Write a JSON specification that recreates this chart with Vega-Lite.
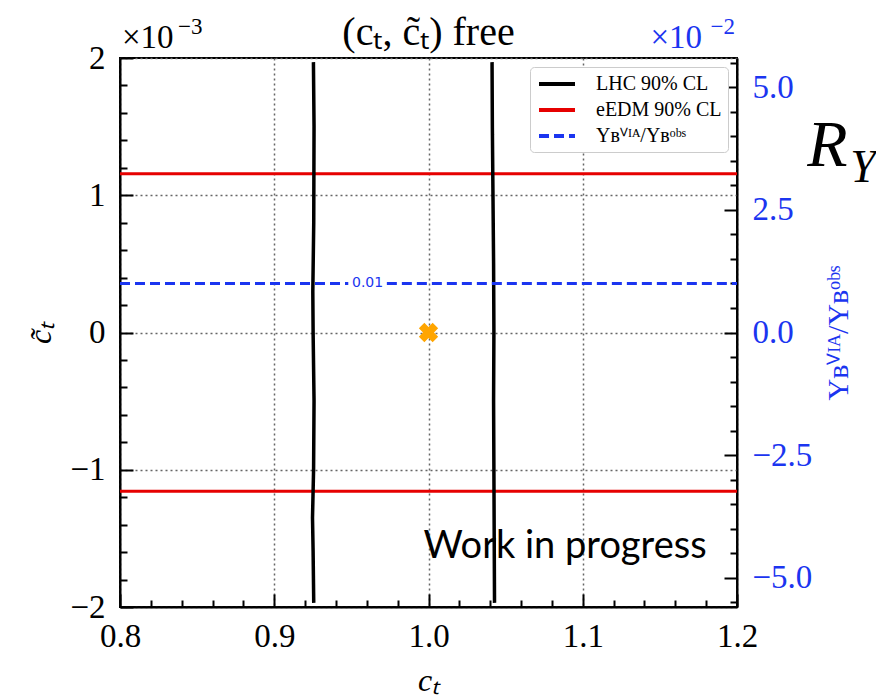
{
  "$schema": "https://vega.github.io/schema/vega-lite/v6.json",
  "width": 617,
  "height": 549,
  "autosize": {"type": "none"},
  "padding": {"left": 120, "top": 58, "right": 139, "bottom": 89},
  "background": "white",
  "config": {
    "view": {"stroke": "black", "strokeWidth": 2},
    "text": {"font": "Liberation Serif"},
    "axis": {"labelFont": "Liberation Serif", "titleFont": "Liberation Serif", "labelColor": "black", "titleColor": "black", "domainColor": "black", "domainWidth": 2, "tickColor": "black", "tickWidth": 2, "titleFontWeight": "normal", "gridDash": [2, 3], "gridColor": "#666666", "gridWidth": 1.5}
  },
  "datasets": {
    "lhc": [
      {"ct": 0.9256, "ctilde": -1.97, "series": "LHC 90% CL", "id": "L"},
      {"ct": 0.9252, "ctilde": -1.6, "series": "LHC 90% CL", "id": "L"},
      {"ct": 0.9248, "ctilde": -1.35, "series": "LHC 90% CL", "id": "L"},
      {"ct": 0.9255, "ctilde": -1.0, "series": "LHC 90% CL", "id": "L"},
      {"ct": 0.9258, "ctilde": -0.5, "series": "LHC 90% CL", "id": "L"},
      {"ct": 0.9252, "ctilde": 0.0, "series": "LHC 90% CL", "id": "L"},
      {"ct": 0.9250, "ctilde": 0.3, "series": "LHC 90% CL", "id": "L"},
      {"ct": 0.9256, "ctilde": 0.8, "series": "LHC 90% CL", "id": "L"},
      {"ct": 0.9258, "ctilde": 1.5, "series": "LHC 90% CL", "id": "L"},
      {"ct": 0.9254, "ctilde": 1.97, "series": "LHC 90% CL", "id": "L"},
      {"ct": 1.0428, "ctilde": -1.97, "series": "LHC 90% CL", "id": "R"},
      {"ct": 1.0426, "ctilde": -1.5, "series": "LHC 90% CL", "id": "R"},
      {"ct": 1.0424, "ctilde": -1.0, "series": "LHC 90% CL", "id": "R"},
      {"ct": 1.0422, "ctilde": -0.5, "series": "LHC 90% CL", "id": "R"},
      {"ct": 1.0424, "ctilde": 0.0, "series": "LHC 90% CL", "id": "R"},
      {"ct": 1.0422, "ctilde": 0.5, "series": "LHC 90% CL", "id": "R"},
      {"ct": 1.0418, "ctilde": 1.0, "series": "LHC 90% CL", "id": "R"},
      {"ct": 1.0414, "ctilde": 1.5, "series": "LHC 90% CL", "id": "R"},
      {"ct": 1.0412, "ctilde": 1.97, "series": "LHC 90% CL", "id": "R"}
    ],
    "eedm": [
      {"ct": 0.8, "ctilde": 1.156, "series": "eEDM 90% CL", "id": "top"},
      {"ct": 1.2, "ctilde": 1.156, "series": "eEDM 90% CL", "id": "top"},
      {"ct": 0.8, "ctilde": -1.156, "series": "eEDM 90% CL", "id": "bottom"},
      {"ct": 1.2, "ctilde": -1.156, "series": "eEDM 90% CL", "id": "bottom"}
    ],
    "yb": [
      {"ct": 0.8, "yratio": 1.0, "series": "Yʙⱽᴵᴬ/Yʙᵒᵇˢ", "seg": "a"},
      {"ct": 0.948, "yratio": 1.0, "series": "Yʙⱽᴵᴬ/Yʙᵒᵇˢ", "seg": "a"},
      {"ct": 0.973, "yratio": 1.0, "series": "Yʙⱽᴵᴬ/Yʙᵒᵇˢ", "seg": "b"},
      {"ct": 1.2, "yratio": 1.0, "series": "Yʙⱽᴵᴬ/Yʙᵒᵇˢ", "seg": "b"}
    ]
  },
  "layer": [
    {
      "encoding": {
        "x": {"field": "ct", "type": "quantitative", "scale": {"domain": [0.8, 1.2], "nice": false, "zero": false},
          "axis": {"orient": "bottom", "title": "cₜ", "titleFont": "Liberation Serif", "titleFontSize": 32, "titleFontStyle": "italic", "titlePadding": 6,
            "values": [0.8, 0.82, 0.84, 0.86, 0.88, 0.9, 0.92, 0.94, 0.96, 0.98, 1.0, 1.02, 1.04, 1.06, 1.08, 1.1, 1.12, 1.14, 1.16, 1.18, 1.2],
            "labelExpr": "abs(datum.value*10 - round(datum.value*10)) < 0.001 ? format(datum.value, '.1f') : ''",
            "labelFont": "Liberation Serif", "labelFontSize": 33, "labelPadding": 26, "labelFlush": false, "labelOverlap": false,
            "tickSize": {"condition": {"test": "abs(datum.value*10 - round(datum.value*10)) < 0.001", "value": -13}, "value": -7},
            "grid": true,
            "gridOpacity": {"condition": {"test": "abs(datum.value*10 - round(datum.value*10)) < 0.001", "value": 1}, "value": 0}}},
        "y": {"field": "ctilde", "type": "quantitative", "scale": {"domain": [-2, 2], "nice": false, "zero": false},
          "axis": {"orient": "left", "title": "c̃ₜ", "titleFont": "Liberation Serif", "titleFontSize": 32, "titleFontStyle": "italic", "titleAngle": 270, "titlePadding": 12,
            "values": [-2, -1.8, -1.6, -1.4, -1.2, -1, -0.8, -0.6, -0.4, -0.2, 0, 0.2, 0.4, 0.6, 0.8, 1, 1.2, 1.4, 1.6, 1.8, 2],
            "labelExpr": "abs(datum.value - round(datum.value)) < 0.001 ? format(datum.value, 'd') : ''",
            "labelFont": "Liberation Serif", "labelFontSize": 33, "labelPadding": 28, "labelFlush": false, "labelOverlap": false,
            "tickSize": {"condition": {"test": "abs(datum.value - round(datum.value)) < 0.001", "value": -13}, "value": -7},
            "grid": true,
            "gridOpacity": {"condition": {"test": "abs(datum.value - round(datum.value)) < 0.001", "value": 1}, "value": 0}}}
      },
      "layer": [
        {
          "data": {"name": "eedm"},
          "mark": {"type": "line", "strokeWidth": 3},
          "encoding": {
            "detail": {"field": "id"},
            "color": {"field": "series", "type": "nominal", "scale": {"domain": ["LHC 90% CL", "eEDM 90% CL", "Yʙⱽᴵᴬ/Yʙᵒᵇˢ"], "range": ["black", "#e60000", "#1b35f0"]},
              "legend": {"title": null, "orient": "top-right", "offset": 9, "symbolType": "M-2,0H2", "symbolStrokeWidth": 4, "symbolSize": 324, "symbolOffset": 10, "labelFont": "Liberation Serif", "labelFontSize": 20, "labelColor": "black", "rowPadding": 5, "padding": 6, "fillColor": "white", "strokeColor": "#cccccc", "cornerRadius": 4, "labelOffset": 28}},
            "strokeDash": {"field": "series", "type": "nominal", "scale": {"domain": ["LHC 90% CL", "eEDM 90% CL", "Yʙⱽᴵᴬ/Yʙᵒᵇˢ"], "range": [[1, 0], [1, 0], [10, 5]]},
              "legend": {"title": null, "orient": "top-right", "offset": 9, "symbolType": "M-2,0H2", "symbolStrokeWidth": 4, "symbolSize": 324, "symbolOffset": 10, "labelFont": "Liberation Serif", "labelFontSize": 20, "labelColor": "black", "rowPadding": 5, "padding": 6, "fillColor": "white", "strokeColor": "#cccccc", "cornerRadius": 4, "labelOffset": 28}}
          }
        },
        {
          "data": {"name": "lhc"},
          "mark": {"type": "line", "strokeWidth": 3.5},
          "encoding": {
            "detail": {"field": "id"},
            "order": {"field": "ctilde", "type": "quantitative"},
            "color": {"field": "series", "type": "nominal"},
            "strokeDash": {"field": "series", "type": "nominal"}
          }
        },
        {
          "data": {"values": [{"ct": 1.0, "ctilde": 0.0}]},
          "mark": {"type": "point", "shape": "cross", "angle": 45, "filled": true, "color": "#FFA500", "opacity": 1, "size": 380}
        },
        {
          "data": {"values": [{"ct": 1.0885, "ctilde": -1.564, "label": "Work in progress"}]},
          "mark": {"type": "text", "font": "Lato", "fontSize": 38, "color": "black", "align": "center", "baseline": "middle"},
          "encoding": {"text": {"field": "label"}}
        },
        {
          "data": {"values": [{"ct": 1.0, "ctilde": 2.0, "label": "(cₜ, c̃ₜ) free"}]},
          "mark": {"type": "text", "font": "Liberation Serif", "fontSize": 40, "color": "black", "align": "center", "baseline": "alphabetic", "dy": -13},
          "encoding": {"text": {"field": "label"}}
        },
        {
          "data": {"values": [{"ct": 0.8, "ctilde": 2.0, "label": "×10"}]},
          "mark": {"type": "text", "font": "Liberation Serif", "fontSize": 33, "color": "black", "align": "left", "baseline": "alphabetic", "dy": -10, "dx": 2},
          "encoding": {"text": {"field": "label"}}
        },
        {
          "data": {"values": [{"ct": 0.8, "ctilde": 2.0, "label": "−3"}]},
          "mark": {"type": "text", "font": "Liberation Serif", "fontSize": 23, "color": "black", "align": "left", "baseline": "alphabetic", "dy": -24, "dx": 58},
          "encoding": {"text": {"field": "label"}}
        },
        {
          "data": {"values": [{"ct": 1.2455, "ctilde": 1.36, "label": "R"}]},
          "mark": {"type": "text", "font": "Liberation Serif", "fontStyle": "italic", "fontSize": 66, "color": "black", "align": "left", "baseline": "middle"},
          "encoding": {"text": {"field": "label"}}
        },
        {
          "data": {"values": [{"ct": 1.2735, "ctilde": 1.20, "label": "Y"}]},
          "mark": {"type": "text", "font": "Liberation Serif", "fontStyle": "italic", "fontSize": 46, "color": "black", "align": "left", "baseline": "middle"},
          "encoding": {"text": {"field": "label"}}
        }
      ]
    },
    {
      "encoding": {
        "x": {"field": "ct", "type": "quantitative", "scale": {"domain": [0.8, 1.2], "nice": false, "zero": false}, "axis": null},
        "y": {"field": "yratio", "type": "quantitative", "scale": {"domain": [-5.6, 5.6], "nice": false, "zero": false},
          "axis": {"orient": "right", "title": "Yʙⱽᴵᴬ/Yʙᵒᵇˢ", "titleFont": "Liberation Serif", "titleColor": "#1b35f0", "titleFontSize": 30, "titleAngle": 270, "titleBaseline": "top", "titlePadding": 12,
            "values": [-5.5, -5, -4.5, -4, -3.5, -3, -2.5, -2, -1.5, -1, -0.5, 0, 0.5, 1, 1.5, 2, 2.5, 3, 3.5, 4, 4.5, 5, 5.5],
            "labelExpr": "abs(datum.value/2.5 - round(datum.value/2.5)) < 0.001 ? format(datum.value, '.1f') : ''",
            "labelFont": "Liberation Serif", "labelColor": "#1b35f0", "labelFontSize": 33, "labelPadding": 28, "labelFlush": false, "labelOverlap": false,
            "grid": false,
            "tickSize": {"condition": {"test": "abs(datum.value/2.5 - round(datum.value/2.5)) < 0.001", "value": -13}, "value": -7}}}
      },
      "layer": [
        {
          "data": {"name": "yb"},
          "mark": {"type": "line", "strokeWidth": 3},
          "encoding": {
            "detail": {"field": "seg"},
            "color": {"field": "series", "type": "nominal"},
            "strokeDash": {"field": "series", "type": "nominal"}
          }
        },
        {
          "data": {"values": [{"ct": 0.9605, "yratio": 1.0, "label": "0.01"}]},
          "mark": {"type": "text", "font": "DejaVu Sans", "fontSize": 14, "color": "#1b35f0", "align": "center", "baseline": "middle"},
          "encoding": {"text": {"field": "label"}}
        },
        {
          "data": {"values": [{"ct": 1.2, "yratio": 5.6, "label": "×10"}]},
          "mark": {"type": "text", "font": "Liberation Serif", "fontSize": 33, "color": "#1b35f0", "align": "right", "baseline": "alphabetic", "dy": -10, "dx": -35},
          "encoding": {"text": {"field": "label"}}
        },
        {
          "data": {"values": [{"ct": 1.2, "yratio": 5.6, "label": "−2"}]},
          "mark": {"type": "text", "font": "Liberation Serif", "fontSize": 23, "color": "#1b35f0", "align": "right", "baseline": "alphabetic", "dy": -24, "dx": -2},
          "encoding": {"text": {"field": "label"}}
        }
      ]
    }
  ],
  "resolve": {"scale": {"y": "independent"}, "axis": {"x": "independent"}}
}
